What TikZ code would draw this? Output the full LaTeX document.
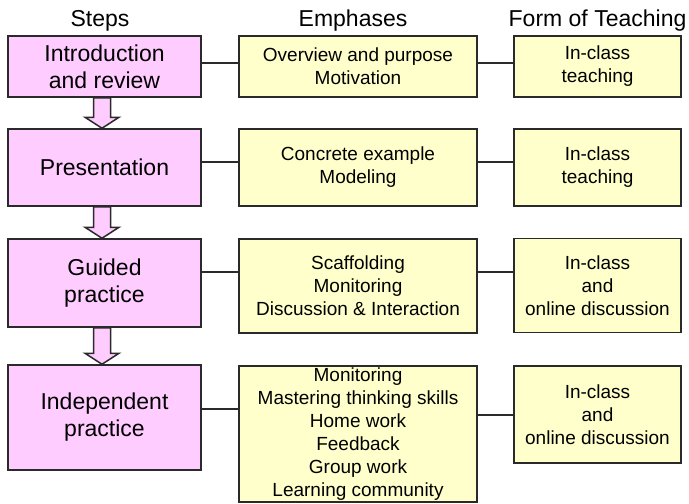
\documentclass[tikz,border=0pt]{standalone}
\usepackage{fontspec}
\setmainfont{Liberation Sans}
\usetikzlibrary{positioning}
\definecolor{steppink}{HTML}{FFCCFF}
\definecolor{emphyellow}{HTML}{FFFFCC}
\definecolor{edgegray}{HTML}{2A2A2A}

\begin{document}
\begin{tikzpicture}[x=0.5pt, y=-0.5pt,
    heading/.style ={anchor=base, font=\fontsize{11.5}{13.5}\selectfont},
    stepbox/.style ={rectangle, draw=edgegray, line width=0.75pt, fill=steppink,
        inner sep=0pt, align=center, minimum width=96.5pt,
        font=\fontsize{11.5}{13.5}\selectfont},
    emphbox/.style ={rectangle, draw=edgegray, line width=0.75pt, fill=emphyellow,
        inner sep=0pt, align=center, minimum width=119pt,
        font=\fontsize{9.5}{11.5}\selectfont},
    formbox/.style ={emphbox, minimum width=83.5pt},
    link/.style ={draw=edgegray, line width=0.75pt},
    stepflow/.style ={draw=edgegray, line width=0.75pt, fill=steppink, line join=miter}]
   \useasboundingbox (0,0) rectangle (689,503);
   % column headings
   \node[heading] (hS) at (100,26) {Steps};
   \node[heading] (hE) at (353,26) {Emphases};
   \node[heading] (hF) at (597.5,26) {Form of Teaching};
   % steps
   \node[stepbox, minimum height=30.5pt] (S1) at (104.5,66.5) {Introduction\\and review};
   \node[stepbox, minimum height=38.5pt] (S2) at (104.5,167.5) {Presentation};
   \node[stepbox, minimum height=44pt] (S3) at (104.5,283) {Guided\\practice};
   \node[stepbox, minimum height=52.5pt] (S4) at (104.5,417.5) {Independent\\practice};
   % emphases
   \node[emphbox, minimum height=30.5pt] (E1) at (358,66.5) {Overview and purpose\\Motivation};
   \node[emphbox, minimum height=38.5pt] (E2) at (358,167.5) {Concrete example\\Modeling};
   \node[emphbox, minimum height=47pt] (E3) at (358,286) {Scaffolding\\Monitoring\\Discussion \& Interaction};
   \node[emphbox, minimum height=68pt] (E4) at (358,434) {Monitoring\\Mastering thinking skills\\Home work\\Feedback\\Group work\\Learning community};
   % form of teaching
   \node[formbox, minimum height=30.5pt] (F1) at (597.5,66.5) {In-class\\teaching};
   \node[formbox, minimum height=38.5pt] (F2) at (597.5,167.5) {In-class\\teaching};
   \node[formbox, minimum height=47pt] (F3) at (597.5,285.5) {In-class\\and\\online discussion};
   \node[formbox, minimum height=48.5pt] (F4) at (597.5,414.5) {In-class\\and\\online discussion};
   % connectors
   \draw[link] (S1.east |- 0,63) -- (E1.west |- 0,63);
   \draw[link] (E1.east |- 0,63) -- (F1.west |- 0,63);
   \draw[link] (S2.east |- 0,162) -- (E2.west |- 0,162);
   \draw[link] (E2.east |- 0,162) -- (F2.west |- 0,162);
   \draw[link] (S3.east |- 0,272) -- (E3.west |- 0,272);
   \draw[link] (E3.east |- 0,272) -- (F3.west |- 0,272);
   \draw[link] (S4.east |- 0,409) -- (E4.west |- 0,409);
   \draw[link] (E4.east |- 0,415) -- (F4.west |- 0,415);
   % block arrows between steps
   \foreach \a/\b in {S1/S2, S2/S3, S3/S4}
      \draw[stepflow] ([xshift=-5.5pt]\a.south) -- ([xshift=-5.5pt, yshift=5.5pt]\b.north)
         -- ([xshift=-9.75pt, yshift=5.5pt]\b.north) -- ([xshift=-1.25pt]\b.north)
         -- ([xshift=7.25pt, yshift=5.5pt]\b.north) -- ([xshift=3pt, yshift=5.5pt]\b.north)
         -- ([xshift=3pt]\a.south) -- cycle;
\end{tikzpicture}
\end{document}
